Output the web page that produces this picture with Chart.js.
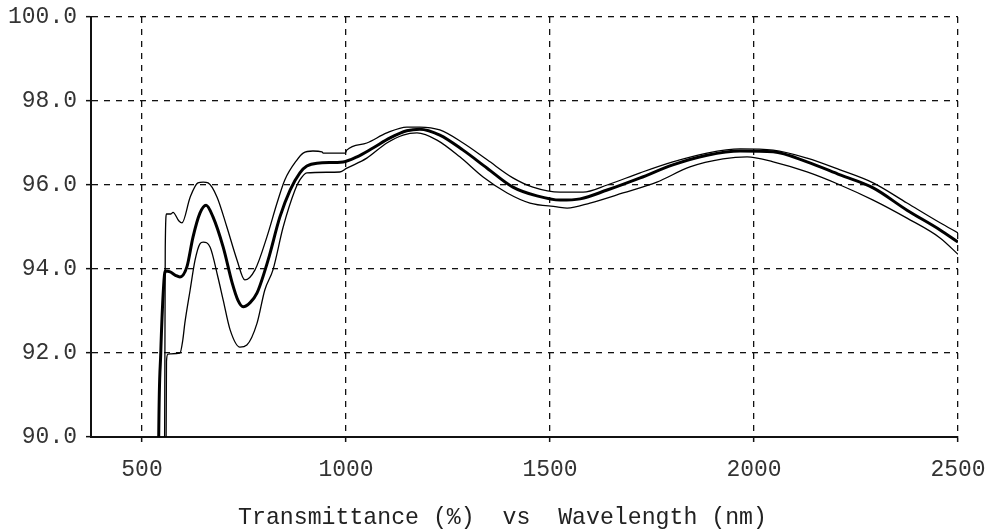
<!DOCTYPE html>
<html>
<head>
<meta charset="utf-8">
<script src="https://cdn.jsdelivr.net/npm/chart.js@4.4.1/dist/chart.umd.min.js"></script>
<style>
  html, body { margin: 0; padding: 0; background: #fff; }
  #wrap { width: 989px; height: 529px; position: relative; }
</style>
</head>
<body>
<div id="wrap"><canvas id="c"></canvas></div>
<script>
// ---- data ----
const xTickValues = [500, 1000, 1500, 2000, 2500];
const yTickValues = [90, 92, 94, 96, 98, 100];
const xTitle = "Transmittance (%)  vs  Wavelength (nm)";

const wlUpper = [554, 557, 560, 571, 576, 590, 598, 618, 637, 650, 662, 684, 708, 733, 752, 777, 806, 831, 850, 880, 895, 919, 941, 944, 998, 1002, 1051, 1100, 1149, 1181, 1230, 1287, 1346, 1409, 1458, 1525, 1581, 1640, 1721, 1801, 1885, 1966, 2047, 2130, 2211, 2292, 2375, 2456, 2500];
const tUpper  = [85, 94.5, 95.31, 95.31, 95.35, 95.15, 95.1, 95.71, 96.05, 96.07, 96.05, 95.71, 95.0, 94.21, 93.74, 93.98, 94.76, 95.57, 96.12, 96.6, 96.76, 96.81, 96.79, 96.76, 96.76, 96.83, 97.0, 97.24, 97.38, 97.38, 97.31, 97.0, 96.6, 96.17, 95.95, 95.83, 95.83, 96.0, 96.29, 96.55, 96.76, 96.86, 96.83, 96.64, 96.36, 96.05, 95.57, 95.1, 94.86];

const wlMiddle = [538, 541, 546, 553, 557, 569, 582, 593, 610, 625, 642, 657, 674, 699, 721, 735, 748, 765, 782, 809, 838, 863, 887, 904, 929, 993, 1027, 1066, 1108, 1149, 1181, 1230, 1287, 1346, 1409, 1468, 1525, 1574, 1640, 1721, 1801, 1885, 1966, 2047, 2130, 2211, 2292, 2375, 2456, 2500];
const tMiddle  = [85, 90, 92, 93.6, 93.95, 93.93, 93.85, 93.81, 94.05, 94.76, 95.33, 95.52, 95.24, 94.52, 93.67, 93.26, 93.1, 93.2, 93.43, 94.21, 95.24, 95.88, 96.29, 96.45, 96.52, 96.55, 96.67, 96.88, 97.12, 97.29, 97.33, 97.19, 96.83, 96.4, 95.95, 95.74, 95.64, 95.67, 95.88, 96.17, 96.48, 96.71, 96.81, 96.79, 96.55, 96.24, 95.93, 95.4, 94.93, 94.64];

const wlLower = [557, 560, 563, 569, 593, 600, 605, 618, 630, 642, 650, 667, 686, 699, 716, 740, 757, 782, 801, 821, 846, 875, 887, 904, 985, 1002, 1051, 1100, 1140, 1174, 1223, 1279, 1336, 1395, 1451, 1517, 1542, 1598, 1679, 1762, 1843, 1924, 1983, 2047, 2130, 2211, 2292, 2375, 2456, 2500];
const tLower  = [85, 91.8, 91.97, 91.98, 92.0, 92.31, 92.71, 93.5, 94.21, 94.6, 94.64, 94.52, 93.81, 93.26, 92.55, 92.14, 92.19, 92.71, 93.5, 93.98, 95.0, 95.88, 96.12, 96.29, 96.31, 96.4, 96.64, 97.0, 97.19, 97.24, 97.07, 96.67, 96.19, 95.81, 95.57, 95.48, 95.45, 95.57, 95.81, 96.07, 96.43, 96.62, 96.67, 96.55, 96.31, 96.0, 95.64, 95.21, 94.74, 94.35];

function pts(xs, ys) { return xs.map((x, i) => ({ x: x, y: ys[i] })); }

const FONT = "'Liberation Mono', 'DejaVu Sans Mono', monospace";

const baseLine = {
  borderColor: '#000',
  pointRadius: 0,
  fill: false,
  cubicInterpolationMode: 'monotone',
  clip: 0
};

// bottom caption, drawn as canvas text under the x axis
const bottomTitle = {
  id: 'bottomTitle',
  afterDraw(chart, args, opts) {
    const ctx = chart.ctx;
    ctx.save();
    ctx.font = opts.size + 'px ' + FONT;
    ctx.fillStyle = opts.color;
    ctx.textAlign = 'center';
    ctx.textBaseline = 'middle';
    ctx.fillText(opts.text, chart.width / 2 + opts.dx, chart.height - opts.dyFromBottom);
    ctx.restore();
  }
};

new Chart(document.getElementById('c'), {
  type: 'line',
  data: {
    datasets: [
      Object.assign({ data: pts(wlUpper, tUpper), borderWidth: 1.3 }, baseLine),
      Object.assign({ data: pts(wlLower, tLower), borderWidth: 1.3 }, baseLine),
      Object.assign({ data: pts(wlMiddle, tMiddle), borderWidth: 3 }, baseLine)
    ]
  },
  plugins: [bottomTitle],
  options: {
    responsive: true,
    maintainAspectRatio: false,
    devicePixelRatio: 1,
    animation: false,
    layout: { padding: { top: 17, right: 31, bottom: 0, left: 0 } },
    plugins: {
      legend: { display: false },
      tooltip: { enabled: false },
      title: { display: false },
      bottomTitle: { text: xTitle, color: '#222', size: 23.2, dx: 8, dyFromBottom: 11 }
    },
    scales: {
      x: {
        type: 'linear',
        min: 375,
        max: 2500,
        afterBuildTicks: (s) => { s.ticks = xTickValues.map(v => ({ value: v })); },
        afterFit: (s) => { s.height = 92; s.paddingLeft = 0; s.paddingRight = 0; },
        ticks: {
          callback: (v) => String(v),
          color: '#333',
          font: { family: FONT, size: 23 },
          padding: 14,
          maxRotation: 0,
          autoSkip: false
        },
        grid: { color: '#111', lineWidth: 1.3, tickLength: 5, tickColor: '#111', tickWidth: 1.5 },
        border: { display: true, color: '#111', width: 2, dash: [6, 6] }
      },
      y: {
        type: 'linear',
        min: 90,
        max: 100,
        afterBuildTicks: (s) => { s.ticks = yTickValues.map(v => ({ value: v })); },
        afterFit: (s) => { s.width = 91; s.paddingTop = 0; s.paddingBottom = 0; },
        ticks: {
          callback: (v) => Number(v).toFixed(1),
          color: '#333',
          font: { family: FONT, size: 23 },
          padding: 9
        },
        grid: { color: '#111', lineWidth: 1.3, tickLength: 5, tickColor: '#111', tickWidth: 1.5 },
        border: { display: true, color: '#111', width: 2, dash: [6, 6] }
      }
    }
  }
});
</script>
</body>
</html>
